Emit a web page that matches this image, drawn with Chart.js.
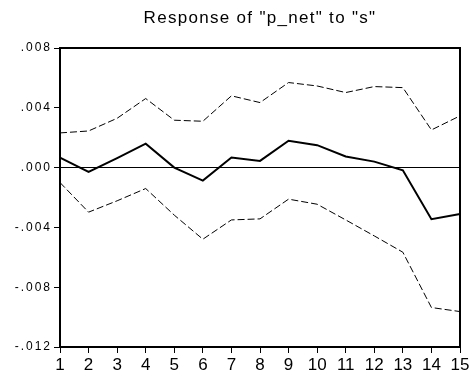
<!DOCTYPE html>
<html>
<head>
<meta charset="utf-8">
<script src="https://cdn.jsdelivr.net/npm/chart.js@4/dist/chart.umd.min.js"></script>
<style>
html,body{margin:0;padding:0;background:#fff;}
#wrap{width:472px;height:376px;}
</style>
</head>
<body>
<div id="wrap"><canvas id="c" width="472" height="376"></canvas></div>
<script>
const titleText = 'Response of "p_net" to "s"';
const periods = ['1','2','3','4','5','6','7','8','9','10','11','12','13','14','15'];
const response = [0.00067, -0.00029, 0.00063, 0.0016, 0.0000, -0.00087, 0.00067, 0.00045, 0.0018, 0.0015, 0.00074, 0.0004, -0.00018, -0.00345, -0.0031];
const upperBand = [0.00232, 0.00245, 0.0033, 0.00462, 0.00317, 0.0031, 0.0048, 0.00435, 0.00569, 0.00546, 0.00502, 0.00542, 0.00535, 0.00252, 0.00346];
const lowerBand = [-0.0010, -0.00298, -0.00222, -0.0014, -0.00318, -0.00479, -0.0035, -0.00343, -0.00211, -0.00245, -0.0035, -0.00457, -0.00566, -0.00936, -0.00963];
const yMin = -0.012, yMax = 0.008, yStep = 0.004;

const FONT = '"Liberation Sans", Arial, sans-serif';

function fmt(v){
  if (Math.abs(v) < 1e-9) return '.000';
  return v.toFixed(3).replace('0.', '.');
}

const spacingPlugin = {
  id: 'spacing',
  afterLayout(chart){
    const y = chart.scales.y;
    if (y && !y._lsWrapped){
      const orig = y.drawLabels;
      y.drawLabels = function(a){ const c = this.ctx; c.save(); c.letterSpacing = '2px'; orig.call(this, a); c.restore(); };
      y._lsWrapped = true;
    }
    const t = chart.titleBlock;
    if (t && !t._lsWrapped){
      const origT = t.draw;
      t.draw = function(){ const c = this.ctx; c.save(); c.letterSpacing = '1.3px'; origT.apply(this, arguments); c.restore(); };
      t._lsWrapped = true;
    }
  }
};

const framePlugin = {
  id: 'frame',
  afterDraw(chart){
    const a = chart.chartArea, c = chart.ctx;
    c.save();
    c.strokeStyle = '#000';
    c.lineWidth = 2;
    c.strokeRect(a.left, a.top, a.right - a.left, a.bottom - a.top);
    c.restore();
  }
};

new Chart(document.getElementById('c'), {
  type: 'line',
  data: {
    labels: periods,
    datasets: [
      { data: upperBand, borderColor: '#000', borderWidth: 1, borderDash: [7,3], pointRadius: 0, tension: 0, fill: false },
      { data: lowerBand, borderColor: '#000', borderWidth: 1, borderDash: [7,3], pointRadius: 0, tension: 0, fill: false },
      { data: response, borderColor: '#000', borderWidth: 2, pointRadius: 0, tension: 0, fill: false }
    ]
  },
  options: {
    responsive: false,
    animation: false,
    devicePixelRatio: 1,
    layout: { padding: { left: 0, right: 12, top: 0, bottom: 0 } },
    plugins: {
      legend: { display: false },
      tooltip: { enabled: false },
      title: {
        display: true,
        text: titleText,
        fullSize: false,
        color: '#000',
        font: { family: FONT, size: 17, weight: 'normal' },
        padding: { top: 8.5, bottom: 19.1 }
      }
    },
    scales: {
      x: {
        type: 'category',
        offset: false,
        grid: { display: true, drawOnChartArea: false, drawTicks: true, tickLength: 6, tickColor: '#000', tickWidth: 1 },
        border: { display: true, color: '#000', width: 2 },
        ticks: { color: '#000', font: { family: FONT, size: 17 }, padding: 2, maxRotation: 0, autoSkip: false },
        afterFit(s){ s.height = 29; }
      },
      y: {
        type: 'linear',
        min: yMin,
        max: yMax,
        grid: {
          display: true,
          drawOnChartArea: true,
          drawTicks: true,
          tickLength: 6,
          tickColor: '#000',
          tickWidth: 1,
          lineWidth: 1,
          color: (ctx) => (ctx.tick && Math.abs(ctx.tick.value) < 1e-9) ? '#000' : 'rgba(0,0,0,0)'
        },
        border: { display: true, color: '#000', width: 2 },
        ticks: { stepSize: yStep, color: '#000', font: { family: FONT, size: 12 }, padding: 2, callback: (v) => fmt(v) },
        afterFit(s){ s.width = 60; }
      }
    }
  },
  plugins: [spacingPlugin, framePlugin]
});
</script>
</body>
</html>
